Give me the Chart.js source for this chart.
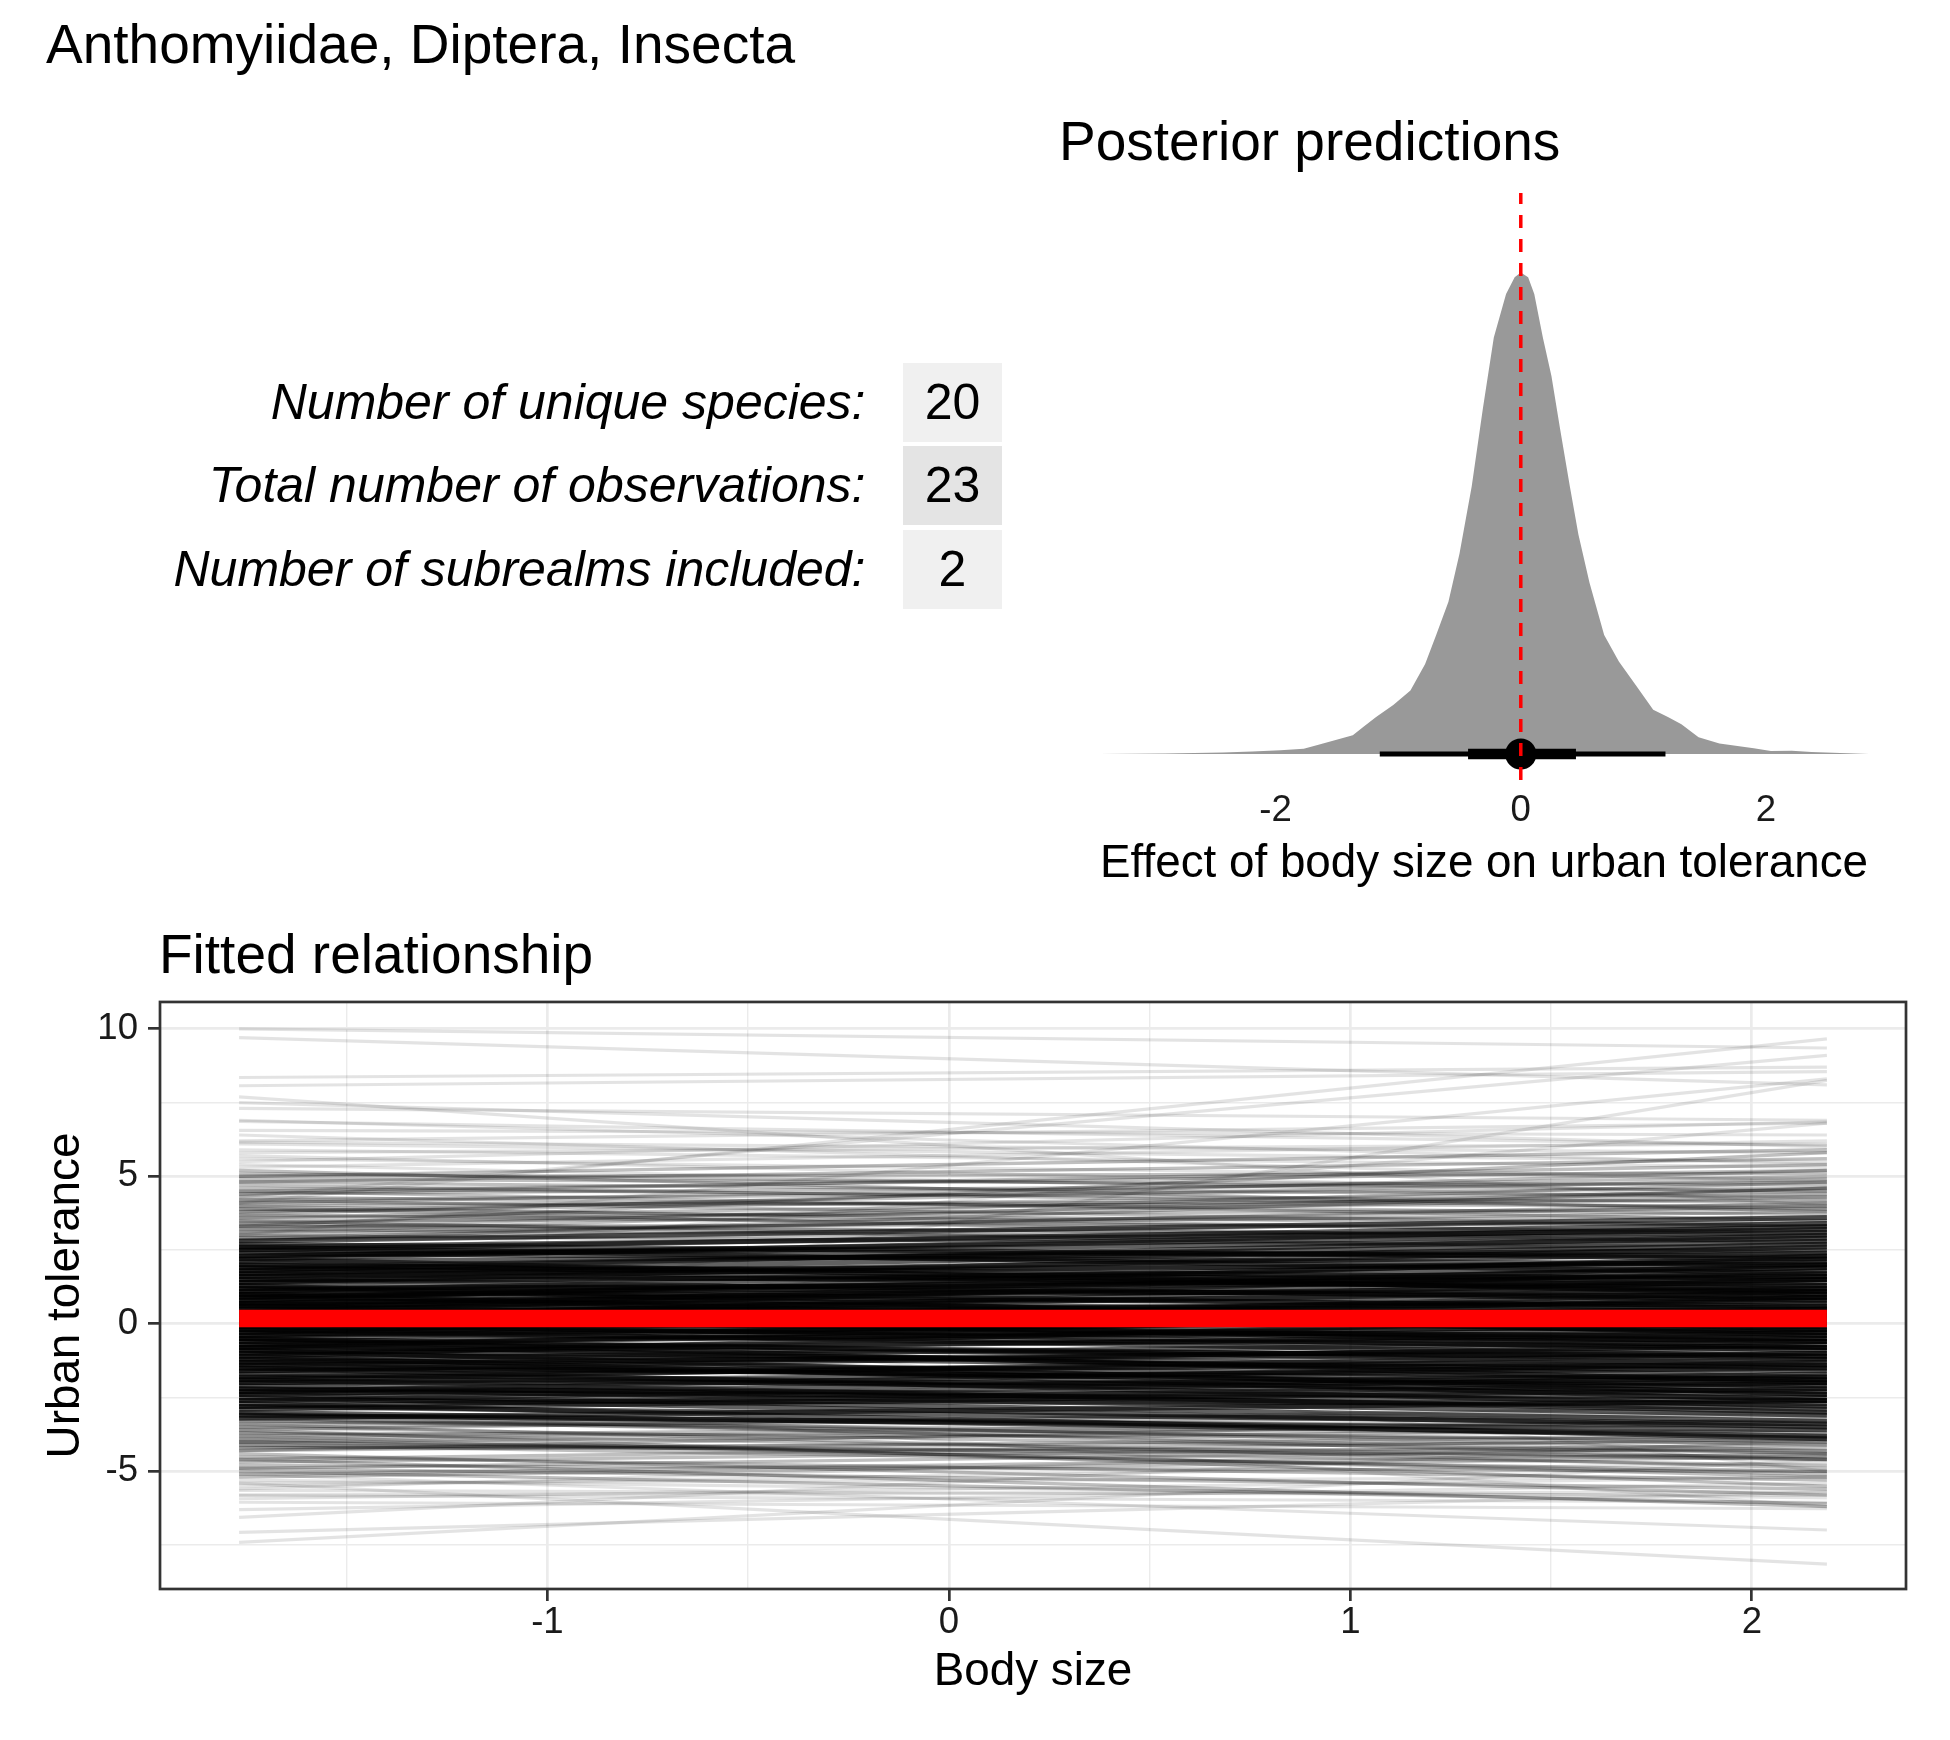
<!DOCTYPE html>
<html lang="en">
<head>
<meta charset="UTF-8">
<title>Anthomyiidae - body size and urban tolerance</title>
<script src="https://cdn.jsdelivr.net/npm/chart.js"></script>
<style>
  body { margin: 0; background: #fff; font-family: "Liberation Sans", Arial, sans-serif; }
  #page { position: relative; width: 1950px; height: 1740px; overflow: hidden; background: #fff; }
  .txt { position: absolute; white-space: nowrap; color: #000; font-size: 55px; line-height: 55px; }
  .lab { position: absolute; white-space: nowrap; text-align: right; font-style: italic; font-size: 50px; line-height: 79px; height: 79px; }
  .cell { position: absolute; text-align: center; font-size: 50px; line-height: 79px; height: 79px; width: 99px; }
  canvas { position: absolute; }
</style>
</head>
<body>
<div id="page">
  <div class="txt" style="left:46px;top:17px;">Anthomyiidae, Diptera, Insecta</div>
  <div class="txt" style="left:1059px;top:114px;">Posterior predictions</div>
  <div class="txt" style="left:159px;top:927px;">Fitted relationship</div>
  <div id="stats"></div>
  <canvas id="postChart" width="950" height="800" style="left:1000px;top:100px;"></canvas>
  <canvas id="fitChart" width="1950" height="770" style="left:0;top:970px;"></canvas>
</div>

<script>
// summary table
const statLabels = ['Number of unique species:', 'Total number of observations:', 'Number of subrealms included:'];
const statValues = [20, 23, 2];

// posterior density of the body size effect
const effectX = [-3.44, -2.90, -2.43, -2.19, -1.96, -1.77, -1.65, -1.51, -1.37, -1.28, -1.18, -1.04, -0.90, -0.78,
  -0.69, -0.59, -0.50, -0.40, -0.31, -0.22, -0.12, -0.05, 0.00, 0.06, 0.11, 0.18, 0.25, 0.32, 0.40, 0.47, 0.56,
  0.68, 0.80, 0.94, 1.08, 1.20, 1.31, 1.45, 1.62, 1.90, 2.04, 2.21, 2.37, 2.84];
const effectDensity = [0.0, 0.001, 0.003, 0.005, 0.008, 0.011, 0.019, 0.029, 0.039, 0.057, 0.077, 0.102, 0.132, 0.187,
  0.247, 0.316, 0.416, 0.556, 0.716, 0.865, 0.955, 0.99, 1.0, 0.99, 0.955, 0.865, 0.785, 0.676, 0.556, 0.456, 0.356,
  0.247, 0.192, 0.142, 0.092, 0.077, 0.062, 0.035, 0.022, 0.012, 0.006, 0.007, 0.004, 0.0];
const effectMedian = 0.0;
const interval66 = [-0.43, 0.45];
const interval95 = [-1.15, 1.18];
const effectTicks = [-2, 0, 2];

// fitted lines: value at the lowest and highest body size
const bodySizeRange = [-1.768, 2.187];
const meanFit = [0.18, 0.18];
const outerStart = [10.0, 9.7, 8.35, 8.07, 4.1, 4.3, -0.5, 3.0, 7.69, 7.3, 6.86, 6.56, 6.16, 6.9, 7.5, 5.5, 2.0, 6.4,
  5.3, 5.6, 5.9, 5.4, 5.8, 6.1, 5.7, 6.2,
  -7.41, -7.07, -6.56, -5.4, -5.1, -6.05, -5.93, -5.82, -5.65, -6.3, -2.2, 1.2,
  -5.3, -5.5, -5.4, -5.6, -5.8];
const outerEnd = [9.35, 8.1, 8.7, 8.55, 9.66, 9.1, 8.25, 8.3, 4.0, 6.9, 6.05, 6.4, 5.8, 5.4, 6.0, 6.85, 6.8, 4.8,
  6.2, 4.9, 5.3, 4.2, 6.1, 5.5, 4.4, 6.8,
  -4.6, -5.7, -3.9, -8.15, -6.99, -6.27, -5.2, -6.05, -5.82, -5.4, -6.2, -5.0,
  -5.9, -4.7, -5.2, -4.0, -5.7];
const midStart = [3.1, 3.4, 3.6, 3.9, 4.1, 4.3, 4.6, 4.8, 5.1, 3.2, 3.5, 3.8, 4.0, 4.4, 4.7, 5.0,
  2.9, 3.3, 3.7, 4.2, 4.5, 4.9, 5.2, 3.0, 2.8, 3.3, 4.1,
  2.9, 3.0, 3.2, 3.4, 3.5, 3.7, 3.8, 4.0, 4.2, 4.4, 2.85, 3.1, 3.6, 4.5, 3.9, 4.8, 5.0, 3.3,
  -3.3, -3.5, -3.7, -3.9, -4.1, -4.3, -4.5, -4.7, -4.9, -5.1, -3.4, -3.6, -3.8, -4.0, -4.2, -4.4, -4.6, -4.8,
  -5.0, -5.2, -3.2, -3.6, -4.0, -4.6, -3.1, -4.9, -3.0, -4.3,
  -3.1, -3.2, -3.4, -3.5, -3.7, -3.8, -4.0, -4.2, -3.05, -3.3, -3.9, -4.1];
const midEnd = [3.8, 2.9, 4.4, 3.3, 5.0, 3.7, 4.1, 5.6, 4.5, 4.8, 2.4, 4.9, 3.0, 5.4, 3.9, 5.9,
  4.1, 3.4, 5.2, 4.6, 3.5, 4.7, 3.8, 2.6, 4.6, 5.8, 4.0,
  3.5, 4.0, 2.8, 4.3, 3.6, 3.1, 4.5, 4.2, 3.3, 4.8, 3.2, 4.6, 3.9, 5.2, 2.7, 4.3, 5.1, 3.0,
  -4.0, -3.1, -4.6, -3.4, -5.0, -3.8, -5.3, -4.1, -5.6, -4.4, -4.9, -2.8, -5.2, -3.6, -4.3, -5.8, -3.9, -5.0,
  -6.1, -4.5, -4.4, -5.5, -4.8, -6.2, -3.7, -4.2, -4.3, -3.2,
  -3.5, -4.1, -3.0, -4.4, -3.9, -3.3, -4.6, -4.0, -4.6, -3.8, -5.1, -4.5];
const coreStart = [-0.2, 1.1, -1.4, 0.6, 2.3, -2.6, 0.1, -0.8, 1.7, -1.9, 0.4, -0.5, 2.7, -3.1, 0.9, -1.1, 1.4, -2.2, 0.0, -0.3,
  2.0, -1.6, 0.7, -2.9, 1.2, -0.7, 2.5, -1.3, 0.3, -2.4, 1.6, -0.1, -1.8, 0.8, -0.9, 2.2, -2.7, 0.5, -0.4, 1.9,
  -1.5, 1.0, -2.0, 0.2, -0.6, 2.8, -3.2, 1.3, -1.2, 0.6, -2.3, 1.5, -0.2, 2.4, -1.7, 0.9, -0.8, 1.8, -2.5, 0.1,
  -1.0, 2.1, -2.8, 0.4, -0.5, 1.1, -1.4, 2.6, -0.1, 0.7, -2.1, 1.4, -3.0, 0.3, -0.9, 1.9, -1.9, 0.0, -0.6, 2.3,
  -1.1, 0.8, -2.4, 1.6, -0.3, 1.0, -1.6, 0.5, -0.7, 2.0, -2.6, 1.2, -1.3, 0.2, -0.4, 1.7, -2.2, 0.6, -1.0, 2.2,
  -0.2, 0.9, -1.8, 1.3, -0.5, 2.5, -2.0, 0.1, -1.2, 1.5, -2.8, 0.4, -0.8, 1.8, -1.5, 0.7, 0.0, 2.6, -2.3, 1.0];
const coreEnd = [0.4, 1.6, -2.1, -0.3, 3.1, -1.8, 0.9, -0.5, 1.2, -3.0, 1.8, -1.4, 2.2, -3.6, 0.2, 0.3, 2.6, -2.5, -0.9, 1.1,
  1.5, -0.7, 1.3, -2.2, 0.5, -1.8, 3.4, -1.0, -0.1, -3.3, 2.1, 0.6, -1.2, 2.3, -2.4, 1.0, -3.9, 0.0, 0.2, 2.8,
  -2.8, 1.1, -1.5, 1.5, -0.2, 3.6, -2.6, -0.2, -1.9, 1.0, -1.3, 0.8, -1.1, 2.0, -2.3, 1.9, 0.5, 3.0, -3.5, -0.5,
  -0.3, 2.5, -2.0, 0.7, -2.0, 2.2, -0.8, 1.7, -0.6, 0.1, -2.9, 1.9, -3.8, 1.2, -1.5, 1.1, -1.0, 0.8, -1.2, 2.9,
  -2.6, 0.4, -1.7, 2.4, -0.8, -0.4, -1.4, 2.0, 0.0, 1.3, -2.7, 1.4, -2.2, -0.6, 0.9, 2.7, -3.1, 0.3, -1.6, 3.3,
  -0.4, 1.7, -2.4, 0.9, 0.3, 2.3, -2.0, 0.5, -0.6, 1.6, -3.4, -0.8, -1.1, 2.0, -1.9, 1.5, -0.2, 3.2, -2.6, 0.6];
const bodySizeTicks = [-1.5, -1, -0.5, 0, 0.5, 1, 1.5, 2];
const bodySizeLabels = [-1, 0, 1, 2];
const toleranceTicks = [-7.5, -5, -2.5, 0, 2.5, 5, 7.5, 10];
const toleranceLabels = [-5, 0, 5, 10];

const FONT = "'Liberation Sans', Arial, sans-serif";
Chart.defaults.font.family = FONT;
Chart.defaults.color = '#1a1a1a';

// table
const stats = document.getElementById('stats');
const cellFill = ['#f0f0f0', '#e4e4e4', '#f0f0f0'];
statLabels.forEach((lab, i) => {
  const top = 362.7 + 83.65 * i;
  const l = document.createElement('div');
  l.className = 'lab';
  l.style.top = top + 'px';
  l.style.right = (1950 - 865.5) + 'px';
  l.textContent = lab;
  stats.appendChild(l);
  const c = document.createElement('div');
  c.className = 'cell';
  c.style.top = top + 'px';
  c.style.left = '903px';
  c.style.background = cellFill[i];
  c.textContent = statValues[i];
  stats.appendChild(c);
});

// posterior predictions
new Chart(document.getElementById('postChart'), {
  type: 'line',
  data: {
    datasets: [
      { data: [{x: 0, y: -0.054}, {x: 0, y: 1.165}], borderColor: '#ff0000', borderWidth: 3.5,
        borderDash: [13, 11], pointRadius: 0, order: 0 },
      { type: 'scatter', data: [{x: effectMedian, y: 0}], backgroundColor: '#000', borderWidth: 0,
        pointRadius: 15.6, order: 1 },
      { data: interval66.map(v => ({x: v, y: 0})), borderColor: '#000', borderWidth: 10.6, pointRadius: 0, order: 2 },
      { data: interval95.map(v => ({x: v, y: 0})), borderColor: '#000', borderWidth: 5, pointRadius: 0, order: 3 },
      { data: effectX.map((x, i) => ({x, y: effectDensity[i]})), borderWidth: 0, borderColor: 'rgba(0,0,0,0)',
        backgroundColor: '#999999', fill: 'origin', pointRadius: 0, order: 4 }
    ]
  },
  options: {
    responsive: false, animation: false, devicePixelRatio: 1, events: [],
    layout: { padding: { left: 99, right: 81, top: 93, bottom: 0 } },
    plugins: { legend: { display: false }, tooltip: { enabled: false } },
    scales: {
      x: {
        type: 'linear', min: -3.44, max: 2.84,
        afterBuildTicks: s => { s.ticks = effectTicks.map(v => ({value: v})); },
        afterFit: s => { s.height = 120; },
        grid: { display: false, drawTicks: false },
        border: { display: false },
        ticks: { font: { size: 36.6 }, padding: 9, color: '#1a1a1a', autoSkip: false, maxRotation: 0,
                 callback: v => String(v) },
        title: { display: true, text: 'Effect of body size on urban tolerance', color: '#000',
                 font: { size: 45.8 }, padding: { top: 0, bottom: 8 } }
      },
      y: { type: 'linear', display: false, min: -0.054, max: 1.165 }
    }
  }
});

// fitted relationship
const fitSets = [];
const addDraws = (starts, ends, color, width, order) => {
  starts.forEach((s, i) => fitSets.push({
    data: [{x: bodySizeRange[0], y: s}, {x: bodySizeRange[1], y: ends[i]}],
    borderColor: color, borderWidth: width, pointRadius: 0, order: order
  }));
};
fitSets.push({ data: bodySizeRange.map((x, i) => ({x, y: meanFit[i]})), borderColor: '#ff0000',
  borderWidth: 17.5, pointRadius: 0, order: 0 });
addDraws(coreStart, coreEnd, 'rgba(0,0,0,0.62)', 5, 1);
addDraws(midStart, midEnd, 'rgba(0,0,0,0.25)', 3.3, 2);
addDraws(outerStart, outerEnd, 'rgba(0,0,0,0.11)', 3.2, 3);

const panelBorder = {
  id: 'panelBorder',
  afterDraw(chart) {
    const {ctx, chartArea: a} = chart;
    ctx.save();
    ctx.strokeStyle = '#333333';
    ctx.lineWidth = 2.7;
    ctx.strokeRect(a.left, a.top, a.right - a.left, a.bottom - a.top);
    ctx.restore();
  }
};

const gridFor = labels => ({
  color: '#ebebeb',
  lineWidth: c => labels.includes(c.tick.value) ? 2.7 : 1.4,
  tickLength: 12,
  tickWidth: 2.7,
  tickColor: c => labels.includes(c.tick.value) ? '#333333' : 'rgba(0,0,0,0)'
});

new Chart(document.getElementById('fitChart'), {
  type: 'line',
  data: { datasets: fitSets },
  options: {
    responsive: false, animation: false, devicePixelRatio: 1, events: [],
    layout: { padding: { left: 0, right: 44, top: 13, bottom: 0 } },
    plugins: { legend: { display: false }, tooltip: { enabled: false } },
    scales: {
      x: {
        type: 'linear', min: -1.965, max: 2.384,
        afterBuildTicks: s => { s.ticks = bodySizeTicks.map(v => ({value: v})); },
        afterFit: s => { s.height = 151; },
        grid: gridFor(bodySizeLabels),
        border: { display: false },
        ticks: { font: { size: 36.6 }, padding: 0, color: '#1a1a1a', autoSkip: false, maxRotation: 0,
                 callback: v => bodySizeLabels.includes(v) ? String(v) : '' },
        title: { display: true, text: 'Body size', color: '#000', font: { size: 45.8 },
                 padding: { top: 0, bottom: 40 } }
      },
      y: {
        type: 'linear', min: -8.99, max: 10.91,
        afterBuildTicks: s => { s.ticks = toleranceTicks.map(v => ({value: v})); },
        afterFit: s => { s.width = 160; },
        grid: gridFor(toleranceLabels),
        border: { display: false },
        ticks: { font: { size: 36.6 }, padding: 10, color: '#1a1a1a', autoSkip: false,
                 callback: v => toleranceLabels.includes(v) ? String(v) : '' },
        title: { display: true, text: 'Urban tolerance', color: '#000', font: { size: 45.8 },
                 padding: { top: 39, bottom: 0 } }
      }
    }
  },
  plugins: [panelBorder]
});
</script>
</body>
</html>
